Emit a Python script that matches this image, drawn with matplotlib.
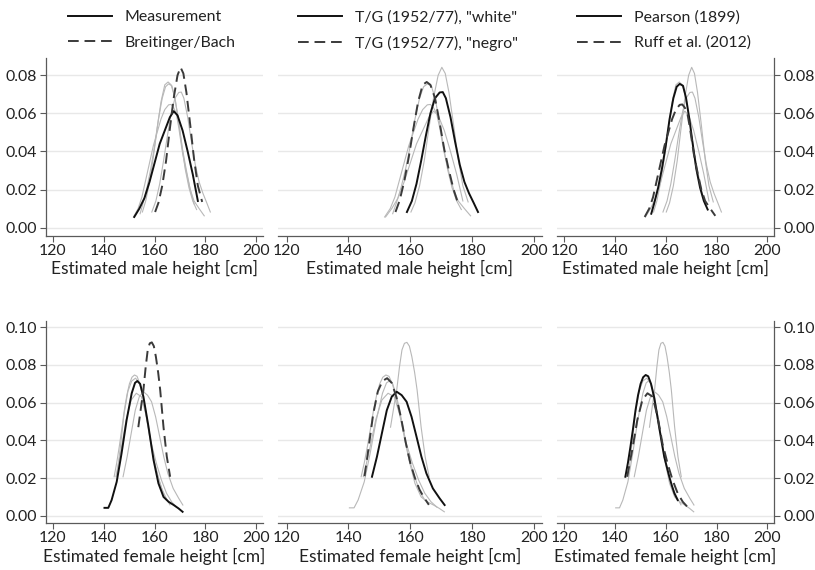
import matplotlib
matplotlib.use("Agg")
import matplotlib.pyplot as plt

plt.rcParams['font.family'] = ['Lato', 'DejaVu Sans']

# method names (legend order)
methods = ["Measurement", "Breitinger/Bach", 'T/G (1952/77), "white"',
           'T/G (1952/77), "negro"', "Pearson (1899)", "Ruff et al. (2012)"]

# male densities
meas_m_x = [152.0, 154.0, 156.0, 158.0, 160.0, 162.0, 164.0, 166.0, 167.5, 169.0, 171.0, 173.0, 175.0, 177.0]
meas_m_y = [0.0056, 0.010, 0.0155, 0.024, 0.034, 0.044, 0.051, 0.058, 0.0612, 0.059, 0.051, 0.040, 0.028, 0.014]
breit_m_x = [160.2, 161.5, 163.0, 164.5, 166.0, 167.5, 169.0, 170.2, 171.3, 172.5, 174.0, 175.5, 177.0, 178.7]
breit_m_y = [0.0082, 0.013, 0.022, 0.035, 0.052, 0.068, 0.080, 0.0842, 0.081, 0.071, 0.054, 0.036, 0.022, 0.0135]
tgw_m_x = [158.9, 160.5, 162.0, 163.5, 165.0, 166.5, 168.0, 169.5, 170.5, 171.5, 173.0, 174.5, 176.0, 177.5, 179.0, 180.5, 181.9]
tgw_m_y = [0.0082, 0.014, 0.023, 0.035, 0.048, 0.060, 0.068, 0.071, 0.0712, 0.068, 0.058, 0.045, 0.033, 0.024, 0.018, 0.013, 0.0082]
tgn_m_x = [155.2, 156.5, 158.0, 159.5, 161.0, 162.5, 164.0, 165.3, 166.5, 168.0, 169.5, 171.0, 172.5, 174.0, 175.5]
tgn_m_y = [0.0082, 0.014, 0.024, 0.037, 0.052, 0.066, 0.075, 0.0765, 0.075, 0.068, 0.055, 0.041, 0.030, 0.020, 0.0125]
pear_m_x = [154.3, 155.5, 157.0, 158.5, 160.0, 161.5, 163.0, 164.3, 165.5, 166.8, 168.0, 169.3, 170.5, 172.0, 173.5, 175.0, 176.5]
pear_m_y = [0.0073, 0.013, 0.021, 0.031, 0.043, 0.057, 0.068, 0.074, 0.0755, 0.0745, 0.068, 0.057, 0.045, 0.031, 0.021, 0.014, 0.0095]
ruff_m_x = [151.7, 153.5, 155.0, 156.5, 158.0, 159.5, 161.0, 162.5, 164.0, 165.5, 166.5, 167.5, 168.5, 169.5, 171.0, 172.5, 174.0, 175.5, 177.5, 179.5]
ruff_m_y = [0.0056, 0.010, 0.016, 0.025, 0.034, 0.043, 0.050, 0.057, 0.062, 0.0645, 0.0647, 0.063, 0.060, 0.0525, 0.039, 0.029, 0.020, 0.014, 0.010, 0.0062]

# female densities
meas_f_x = [140.3, 141.8, 143.1, 145.1, 147.0, 149.0, 151.0, 152.3, 153.2, 154.3, 155.6, 157.6, 159.6, 161.5, 163.5, 165.5, 167.5, 169.4, 171.0]
meas_f_y = [0.0042, 0.0042, 0.0083, 0.018, 0.033, 0.0508, 0.065, 0.0705, 0.0715, 0.070, 0.0632, 0.0472, 0.0295, 0.0172, 0.010, 0.0074, 0.0057, 0.0039, 0.0021]
breit_f_x = [153.6, 154.6, 155.6, 156.5, 157.3, 158.1, 158.9, 159.7, 160.5, 161.4, 162.2, 163.5, 164.8, 166.1]
breit_f_y = [0.047, 0.057, 0.0667, 0.079, 0.088, 0.0915, 0.092, 0.090, 0.0844, 0.076, 0.0667, 0.047, 0.0313, 0.0207]
tgw_f_x = [147.6, 149.2, 150.8, 152.4, 154.0, 155.6, 157.2, 158.8, 160.4, 162.0, 163.6, 165.2, 167.3, 169.5, 171.1]
tgw_f_y = [0.0207, 0.0313, 0.0437, 0.056, 0.0632, 0.0658, 0.064, 0.0605, 0.0525, 0.042, 0.0313, 0.0225, 0.0145, 0.0092, 0.0057]
tgn_f_x = [145.2, 146.5, 148.0, 149.5, 151.0, 152.5, 154.0, 155.5, 157.0, 158.5, 160.0, 161.5, 163.0, 164.5, 166.0]
tgn_f_y = [0.021, 0.036, 0.054, 0.066, 0.0715, 0.073, 0.0705, 0.063, 0.052, 0.039, 0.028, 0.020, 0.0138, 0.0095, 0.0058]
pear_f_x = [144.1, 145.1, 146.1, 147.1, 148.1, 149.1, 150.1, 151.1, 152.1, 153.1, 154.2, 155.4, 156.4, 157.4, 158.4, 159.4, 160.4, 161.4, 162.4, 163.4, 164.7]
pear_f_y = [0.0207, 0.028, 0.0366, 0.046, 0.056, 0.064, 0.070, 0.0735, 0.0747, 0.074, 0.070, 0.063, 0.055, 0.047, 0.039, 0.0313, 0.026, 0.0207, 0.016, 0.0119, 0.0083]
ruff_f_x = [144.8, 146.8, 148.8, 150.8, 152.8, 154.8, 156.8, 158.7, 160.7, 162.7, 164.7, 166.7, 168.6]
ruff_f_y = [0.0207, 0.0349, 0.0508, 0.0614, 0.065, 0.0632, 0.0525, 0.0384, 0.0278, 0.0189, 0.0119, 0.0074, 0.0046]

male = [(meas_m_x, meas_m_y), (breit_m_x, breit_m_y), (tgw_m_x, tgw_m_y),
        (tgn_m_x, tgn_m_y), (pear_m_x, pear_m_y), (ruff_m_x, ruff_m_y)]
female = [(meas_f_x, meas_f_y), (breit_f_x, breit_f_y), (tgw_f_x, tgw_f_y),
          (tgn_f_x, tgn_f_y), (pear_f_x, pear_f_y), (ruff_f_x, ruff_f_y)]

xticks = [120, 140, 160, 180, 200]
yticks_m = [0, 0.02, 0.04, 0.06, 0.08]
yticks_f = [0, 0.02, 0.04, 0.06, 0.08, 0.10]
xlabels = ["Estimated male height [cm]", "Estimated female height [cm]"]

W, H = 815, 570
fig = plt.figure(figsize=(W / 100, H / 100), dpi=100)

# panel boxes in pixels: (left, right) per column, (top, bottom) per row
cols = [(45.7, 263), (278, 542), (557, 774)]
rows = [(58, 236), (320.7, 523.3)]
ylims = [(-0.0044, 0.0891), (-0.004, 0.1035)]

axcol = "#5a5a5a"
for r in range(2):
    data = male if r == 0 else female
    for c in range(3):
        l, rr = cols[c]
        t, b = rows[r]
        ax = fig.add_axes([l / W, 1 - b / H, (rr - l) / W, (b - t) / H])
        hi = [2 * c, 2 * c + 1]
        for i, (x, y) in enumerate(data):
            if i not in hi:
                ax.plot(x, y, color="#b8b8b8", lw=0.8, zorder=2)
        l1, = ax.plot(*data[hi[0]], color="#111111", lw=1.4, zorder=3)
        l2, = ax.plot(*data[hi[1]], color="#3a3a3a", lw=1.4, dashes=(5.5, 3), zorder=3)

        ax.set_xlim(117.2, 202.6)
        ax.set_ylim(*ylims[r])
        ax.set_xticks(xticks)
        ax.set_yticks(yticks_m if r == 0 else yticks_f)
        ax.yaxis.set_major_formatter(matplotlib.ticker.FormatStrFormatter("%.2f"))
        ax.grid(axis="y", color="#e8e8e8", lw=1.0, zorder=0)
        ax.set_axisbelow(True)
        for s in ["top", "left", "right"]:
            ax.spines[s].set_visible(False)
        ax.spines["bottom"].set_color(axcol)
        ax.spines["bottom"].set_linewidth(0.9)
        ax.tick_params(axis="x", colors=axcol, labelcolor="#222222", labelsize=11.4,
                       length=4, width=0.8, pad=1.5)
        ax.tick_params(axis="y", colors=axcol, labelcolor="#222222", labelsize=11.4,
                       length=4, width=0.8, pad=2.5)
        if c == 0:
            ax.spines["left"].set_visible(True)
            ax.spines["left"].set_color(axcol)
            ax.spines["left"].set_linewidth(0.9)
        elif c == 2:
            ax.spines["right"].set_visible(True)
            ax.spines["right"].set_color(axcol)
            ax.spines["right"].set_linewidth(0.9)
            ax.yaxis.tick_right()
        else:
            ax.tick_params(axis="y", length=0, labelleft=False)
        ax.set_xlabel(xlabels[r], fontsize=12.5, color="#222222", labelpad=2)

        if r == 0:
            lx = [68, 298, 577][c]
            ax.legend([l1, l2], [methods[hi[0]], methods[hi[1]]], loc="upper left",
                      bbox_to_anchor=(lx / W, 1 - 10 / H), bbox_transform=fig.transFigure,
                      frameon=False, borderpad=0, borderaxespad=0, handlelength=2.8,
                      handletextpad=0.8, labelspacing=0.72, fontsize=11.4,
                      labelcolor="#222222")

plt.savefig("out.png", dpi=100)
